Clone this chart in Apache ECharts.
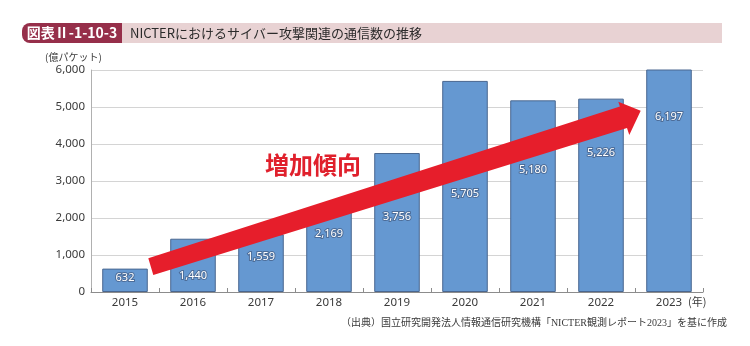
<!DOCTYPE html>
<html><head><meta charset="utf-8">
<script src="https://cdn.jsdelivr.net/npm/echarts@6/dist/echarts.min.js"></script>
<style>html,body{margin:0;padding:0;background:#fff}#c{width:750px;height:346px}</style>
</head><body><div id="c"></div>
<script>
const years = ['2015','2016','2017','2018','2019','2020','2021','2022','2023'];
const packets = [632, 1440, 1559, 2169, 3756, 5705, 5180, 5226, 6197];
const yTicks = [0, 1000, 2000, 3000, 4000, 5000, 6000];
const figureNo = '図表Ⅱ-1-10-3';
const titleText = 'NICTERにおけるサイバー攻撃関連の通信数の推移';
const unitText = '(億パケット)';
const yearUnit = '(年)';
const trendText = '増加傾向';
const sourceText = '（出典）国立研究開発法人情報通信研究機構「NICTER観測レポート2023」を基に作成';

const chart = echarts.init(document.getElementById('c'), null, {renderer:'canvas'});
const labelDy = [9, 37, 23, 22, 64, 113, 70, 54, 47];
const FONT = "'Noto Sans', 'Noto Sans CJK JP', sans-serif";
const barData = packets.map((v, i) => ({
  value: v,
  label: { position: ['50%', labelDy[i]] }
}));
const option = {
  animation: false,
  grid: { left: 91, right: 47, top: 70, bottom: 54, containLabel: false },
  xAxis: {
    type: 'category', data: years,
    axisLine: { lineStyle: { color: '#8c8c8c', width: 1 } },
    axisTick: { show: true, inside: true, length: 4, lineStyle: { color: '#8c8c8c' } },
    axisLabel: { color: '#3a3a3a', fontSize: 11.5, fontFamily: FONT, margin: 5 }
  },
  yAxis: {
    type: 'value', min: yTicks[0], max: yTicks[yTicks.length-1], interval: 1000,
    axisLine: { show: true, lineStyle: { color: '#b0b0b0' } },
    axisTick: { show: false },
    splitLine: { lineStyle: { color: '#d4d4d4', width: 1.2 } },
    axisLabel: { color: '#3a3a3a', fontSize: 11.5, fontFamily: FONT, margin: 6,
      formatter: v => v.toLocaleString('en-US') }
  },
  series: [{
    type: 'bar', data: barData, barCategoryGap: '33%',
    itemStyle: { color: '#6598d1', borderColor: '#4a6790', borderWidth: 1 },
    label: { show: true, align: 'center', verticalAlign: 'middle',
      color: '#fff', fontSize: 11, fontFamily: FONT,
      textBorderColor: '#4d6d99', textBorderWidth: 2,
      formatter: p => p.value.toLocaleString('en-US') }
  }],
  graphic: [
    { type: 'rect', shape: { x: 121, y: 23, width: 601, height: 20 }, style: { fill: '#e8d2d3' }, silent: true },
    { type: 'rect', shape: { x: 22, y: 23, width: 100, height: 20, r: [8, 0, 0, 8] }, style: { fill: '#962f4a' }, silent: true },
    { type: 'text', x: 72, y: 33, style: { text: figureNo, fill: '#fff', font: "bold 14px 'Noto Sans CJK JP', sans-serif", align: 'center', verticalAlign: 'middle' }, silent: true },
    { type: 'text', x: 130, y: 33, style: { text: titleText, fill: '#2b2b2b', font: "13px 'Noto Sans CJK JP', sans-serif", align: 'left', verticalAlign: 'middle' }, silent: true },
    { type: 'text', x: 45, y: 57, style: { text: unitText, fill: '#3a3a3a', font: "10px 'Noto Sans CJK JP', sans-serif", align: 'left', verticalAlign: 'middle' }, silent: true },
    { type: 'text', x: 688, y: 302, style: { text: yearUnit, fill: '#3a3a3a', font: "11px 'Noto Sans CJK JP', sans-serif", align: 'left', verticalAlign: 'middle' }, silent: true },
    { type: 'text', x: 727, y: 323, style: { text: sourceText, fill: '#3a3a3a', font: "10px 'Liberation Serif', 'Noto Sans CJK JP', serif", align: 'right', verticalAlign: 'middle' }, silent: true },
    { type: 'polygon', shape: { points: [[148.3,258.3],[619.9,106.5],[618.3,101.7],[640.7,110.7],[629.3,135],[627.0,128.1],[153.3,275]] },
      style: { fill: '#e61e2b' }, z: 100, silent: true },
    { type: 'text', x: 313, y: 165, style: { text: trendText, fill: '#e0202c', font: "bold 24px 'Noto Sans CJK JP', sans-serif", align: 'center', verticalAlign: 'middle' }, z: 100, silent: true }
  ]
};
chart.setOption(option);
</script></body></html>
